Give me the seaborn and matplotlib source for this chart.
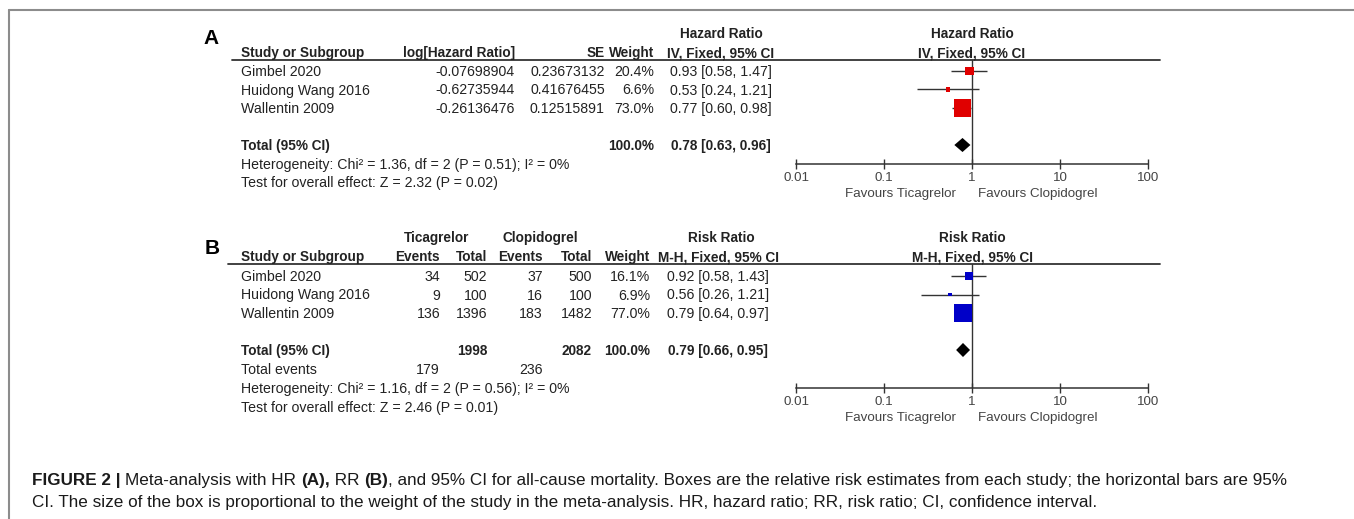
import numpy as np
import pandas as pd
import matplotlib
matplotlib.use("Agg")
import matplotlib.pyplot as plt
from matplotlib.lines import Line2D
from matplotlib import font_manager
import seaborn as sns

# ---- data: panel A (hazard ratio) ----
studies = ["Gimbel 2020", "Huidong Wang 2016", "Wallentin 2009"]
hr_log = [-0.07698904, -0.62735944, -0.26136476]
hr_se = [0.23673132, 0.41676455, 0.12515891]
hr_weight = [20.4, 6.6, 73.0]
hr_est = [0.93, 0.53, 0.77]
hr_lo = [0.58, 0.24, 0.60]
hr_hi = [1.47, 1.21, 0.98]
hr_total = [0.78, 0.63, 0.96]
hr_het = "Heterogeneity: Chi\u00b2 = 1.36, df = 2 (P = 0.51); I\u00b2 = 0%"
hr_test = "Test for overall effect: Z = 2.32 (P = 0.02)"

# ---- data: panel B (risk ratio) ----
tica_events = [34, 9, 136]
tica_total = [502, 100, 1396]
clop_events = [37, 16, 183]
clop_total = [500, 100, 1482]
rr_weight = [16.1, 6.9, 77.0]
rr_est = [0.92, 0.56, 0.79]
rr_lo = [0.58, 0.26, 0.64]
rr_hi = [1.43, 1.21, 0.97]
rr_total = [0.79, 0.66, 0.95]
rr_het = "Heterogeneity: Chi\u00b2 = 1.16, df = 2 (P = 0.56); I\u00b2 = 0%"
rr_test = "Test for overall effect: Z = 2.46 (P = 0.01)"

ticks = [0.01, 0.1, 1, 10, 100]
tick_labels = ["0.01", "0.1", "1", "10", "100"]

caption1 = [("FIGURE 2", "bold"), (" | ", "bold"), ("Meta-analysis with HR ", "normal"),
            ("(A),", "bold"), (" RR ", "normal"), ("(B)", "bold"),
            (", and 95% CI for all-cause mortality. Boxes are the relative risk estimates "
             "from each study; the horizontal bars are 95%", "normal")]
caption2 = ("CI. The size of the box is proportional to the weight of the study in the "
            "meta-analysis. HR, hazard ratio; RR, risk ratio; CI, confidence interval.")

sns.set_theme(style="white")
plt.rcParams["font.family"] = ["Liberation Sans", "DejaVu Sans"]
names = {f.name for f in font_manager.fontManager.ttflist}
cap_family = ["Liberation Sans Narrow"] if "Liberation Sans Narrow" in names else ["Liberation Sans"]

W, H = 1354, 519
fig = plt.figure(figsize=(W / 100, H / 100), dpi=100)
FS = 10.2
FSB = 9.8
TXT = "#222222"
STEP = 18.5


def T(x, y, s, ha="left", bold=False, size=None, color=TXT):
    # y is the visual centre of capital letters, in pixels from the top
    if size is None:
        size = FSB if bold else FS
    return fig.text(x / W, 1 - (y + 5) / H, s, ha=ha, va="baseline", fontsize=size,
                    fontweight="bold" if bold else "normal", color=color)


def hline(x0, x1, y, color="#333333", lw=1.3):
    fig.add_artist(Line2D([x0 / W, x1 / W], [1 - y / H] * 2, transform=fig.transFigure,
                          color=color, lw=lw))


def ci(e, l, h):
    return f"{e:.2f} [{l:.2f}, {h:.2f}]"


def forest(top, bottom, r0, est, lo, hi, weight, total, color, sizes):
    ax = fig.add_axes([796 / W, 1 - bottom / H, (1148 - 796) / W, (bottom - top) / H])
    rows = np.arange(len(est))
    df = pd.DataFrame({"est": est, "row": rows, "weight": weight})
    ax.hlines(rows, lo, hi, color="#333333", lw=1)
    sns.scatterplot(data=df, x="est", y="row", size="weight", sizes=sizes, marker="s",
                    color=color, linewidth=0, legend=False, ax=ax, zorder=3)
    e, l, h = total
    tr = 4
    ax.fill([l, e, h, e], [tr, tr - 0.38, tr, tr + 0.38], color="black", lw=0, zorder=3)
    ax.axvline(1, color="#333333", lw=1, zorder=2)
    ax.set_xscale("log")
    ax.set_xlim(0.01, 100)
    ax.set_ylim((bottom - r0) / STEP, (top - r0) / STEP)
    ax.set_xticks(ticks)
    ax.set_xticklabels(tick_labels)
    ax.minorticks_off()
    ax.set_yticks([])
    ax.set_xlabel("")
    ax.set_ylabel("")
    for s in ["top", "left", "right"]:
        ax.spines[s].set_visible(False)
    ax.spines["bottom"].set_color("#333333")
    ax.spines["bottom"].set_linewidth(1.1)
    ax.tick_params(axis="x", direction="inout", length=7, width=1, color="#333333",
                   pad=2, labelsize=9.6, labelcolor="#444444", bottom=True)
    ax.patch.set_alpha(0)
    return ax


# ---------------- panel A ----------------
fig.text(203 / W, 1 - 38 / H, "A", fontsize=15, fontweight="bold", va="center", color="black")
T(721, 33, "Hazard Ratio", ha="center", bold=True)
T(972, 33, "Hazard Ratio", ha="center", bold=True)
hy = 52
T(241, hy, "Study or Subgroup", bold=True)
T(515, hy, "log[Hazard Ratio]", ha="right", bold=True)
T(605, hy, "SE", ha="right", bold=True)
T(654, hy, "Weight", ha="right", bold=True)
T(721, hy, "IV, Fixed, 95% CI", ha="center", bold=True)
T(972, hy, "IV, Fixed, 95% CI", ha="center", bold=True)
hline(232, 1160, 60)

r0 = 71
for i, name in enumerate(studies):
    y = r0 + STEP * i
    T(241, y, name)
    T(515, y, f"{hr_log[i]:.8f}", ha="right")
    T(605, y, f"{hr_se[i]:.8f}", ha="right")
    T(654, y, f"{hr_weight[i]:.1f}%", ha="right")
    T(721, y, ci(hr_est[i], hr_lo[i], hr_hi[i]), ha="center")
y = r0 + STEP * 4
T(241, y, "Total (95% CI)", bold=True)
T(654, y, f"{sum(hr_weight):.1f}%", ha="right", bold=True)
T(721, y, ci(*hr_total), ha="center", bold=True)
T(241, y + 19, hr_het)
T(241, y + 37, hr_test)

forest(60, 164, r0, hr_est, hr_lo, hr_hi, hr_weight, hr_total, "#e00000", (10, 150))
T(956, 192, "Favours Ticagrelor", ha="right", color="#444444", size=9.6)
T(978, 192, "Favours Clopidogrel", color="#444444", size=9.6)

# ---------------- panel B ----------------
fig.text(205 / W, 1 - 248 / H, "B", fontsize=15, fontweight="bold", va="center", color="black")
T(437, 237, "Ticagrelor", ha="center", bold=True)
T(540, 237, "Clopidogrel", ha="center", bold=True)
T(721, 237, "Risk Ratio", ha="center", bold=True)
T(972, 237, "Risk Ratio", ha="center", bold=True)
hy = 256
T(241, hy, "Study or Subgroup", bold=True)
T(440, hy, "Events", ha="right", bold=True)
T(487, hy, "Total", ha="right", bold=True)
T(543, hy, "Events", ha="right", bold=True)
T(592, hy, "Total", ha="right", bold=True)
T(650, hy, "Weight", ha="right", bold=True)
T(718, hy, "M-H, Fixed, 95% CI", ha="center", bold=True)
T(972, hy, "M-H, Fixed, 95% CI", ha="center", bold=True)
hline(228, 1160, 264)

r0 = 276
for i, name in enumerate(studies):
    y = r0 + STEP * i
    T(241, y, name)
    T(440, y, str(tica_events[i]), ha="right")
    T(487, y, str(tica_total[i]), ha="right")
    T(543, y, str(clop_events[i]), ha="right")
    T(592, y, str(clop_total[i]), ha="right")
    T(650, y, f"{rr_weight[i]:.1f}%", ha="right")
    T(718, y, ci(rr_est[i], rr_lo[i], rr_hi[i]), ha="center")
y = r0 + STEP * 4
T(241, y, "Total (95% CI)", bold=True)
T(487, y, str(sum(tica_total)), ha="right", bold=True)
T(592, y, str(sum(clop_total)), ha="right", bold=True)
T(650, y, f"{sum(rr_weight):.1f}%", ha="right", bold=True)
T(718, y, ci(*rr_total), ha="center", bold=True)
T(241, y + 19, "Total events")
T(440, y + 19, str(sum(tica_events)), ha="right")
T(543, y + 19, str(sum(clop_events)), ha="right")
T(241, y + 38, rr_het)
T(241, y + 57, rr_test)

forest(264, 388, r0, rr_est, rr_lo, rr_hi, rr_weight, rr_total, "#0000c8", (8, 170))
T(956, 416, "Favours Ticagrelor", ha="right", color="#444444", size=9.6)
T(978, 416, "Favours Clopidogrel", color="#444444", size=9.6)

# ---------------- frame ----------------
fig.add_artist(Line2D([9 / W, 1], [1 - 10 / H] * 2, transform=fig.transFigure, color="#8c8c8c", lw=1.5))
fig.add_artist(Line2D([9 / W, 9 / W], [0, 1 - 10 / H], transform=fig.transFigure, color="#8c8c8c", lw=1.5))

# ---------------- caption ----------------
renderer = fig.canvas.get_renderer()


def runs_width(runs, size):
    total = 0
    for s, w in runs:
        t = fig.text(0, 0, s.replace(" ", "\u00a0"), fontsize=size, fontweight=w, family=cap_family)
        total += t.get_window_extent(renderer).width
        t.remove()
    return total


cap_size = 11 * 1246 / runs_width(caption1, 11)
x = 32
for s, w in caption1:
    t = fig.text(x / W, 1 - 485 / H, s.replace(" ", "\u00a0"), fontsize=cap_size, fontweight=w,
                 color="#1a1a1a", va="baseline", family=cap_family)
    x += t.get_window_extent(renderer).width
fig.text(32 / W, 1 - 507 / H, caption2, fontsize=cap_size, color="#1a1a1a", va="baseline",
         family=cap_family)

fig.savefig("out.png", dpi=100)
